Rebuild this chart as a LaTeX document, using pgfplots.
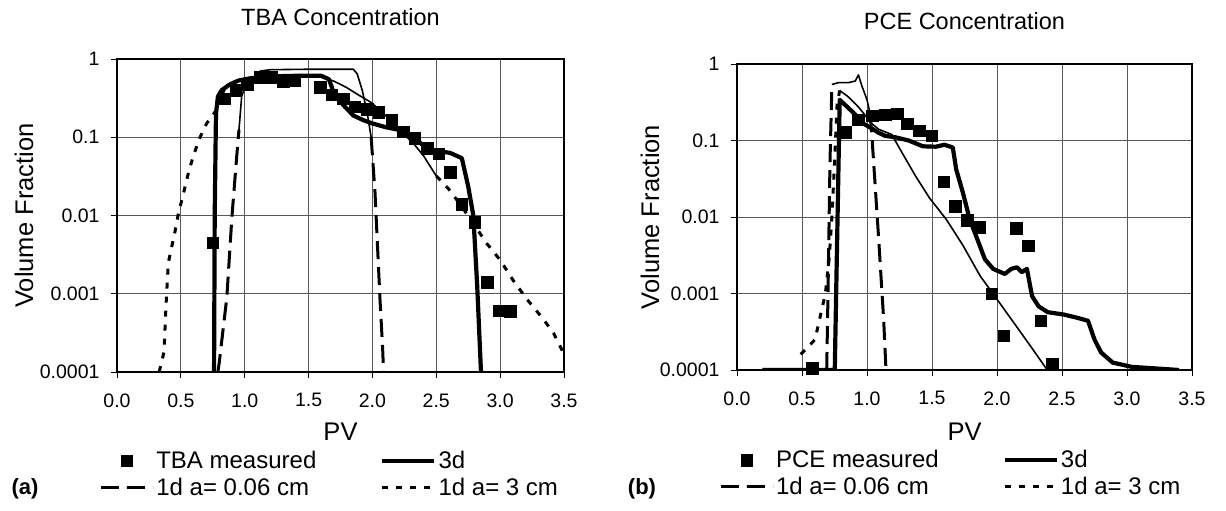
\documentclass[border=0pt]{standalone}
\usepackage{fontspec}
\setmainfont{Liberation Sans}
\usepackage{pgfplots}
\pgfplotsset{compat=1.18}

\pgfplotsset{
  legend image code/.code={\draw[mark repeat=2,mark phase=2,#1] plot coordinates {(0pt,0pt) (26pt,0pt) (52pt,0pt)};},
  meas/.style={only marks, mark=square*, mark size=5.8pt, black},
  three/.style={black, line width=4.2pt, no marks, line join=round},
  dsh/.style={black, line width=3pt, no marks, dash pattern=on 18pt off 8pt},
  dotln/.style={black, line width=3pt, no marks, dash pattern=on 6pt off 8pt},
  thinln/.style={black, line width=1.6pt, no marks, line join=round},
}

\begin{document}
\begin{tikzpicture}[x=1pt,y=1pt]
\useasboundingbox (0,0) rectangle (1226,511);

% ---------------- (a) TBA ----------------
\begin{semilogyaxis}[
  scale only axis, at={(117pt,139pt)}, anchor=south west,
  width=447pt, height=313pt,
  xmin=0, xmax=3.5, ymin=1e-4, ymax=1,
  xtick={0,0.5,...,3.5},
  ytick={1e-4,1e-3,1e-2,1e-1,1},
  yticklabels={0.0001,0.001,0.01,0.1,1},
  yminorticks=false,
  xticklabel style={yshift=-12pt, /pgf/number format/fixed, /pgf/number format/fixed zerofill, /pgf/number format/precision=1, /pgf/number format/assume math mode=true},
  yticklabel style={xshift=-8pt},
  tick label style={font=\fontsize{19.5}{22}\selectfont},
  grid=major,
  major grid style={black!65, line width=0.8pt},
  axis line style={line width=1.6pt},
  tick align=outside, major tick length=6pt,
  tick style={black, line width=1pt},
  tick pos=left,
  title={TBA Concentration},
  title style={at={(axis description cs:0.50,1.115)}, anchor=center, font=\fontsize{23.5}{26}\selectfont},
  xlabel={PV}, ylabel={Volume Fraction},
  xlabel style={at={(axis description cs:0.5,-0.192)}, anchor=center, font=\fontsize{25.5}{28}\selectfont},
  ylabel style={at={(axis description cs:-0.208,0.5)}, anchor=center, font=\fontsize{25.5}{28}\selectfont},
  legend columns=2,
  legend cell align=left,
  legend style={at={(axis description cs:-0.040,-0.246)}, draw=none, fill=none, anchor=north west, inner sep=0pt,
    nodes={inner sep=2pt, font=\fontsize{24}{26}\selectfont},
    /tikz/every even column/.append style={column sep=62pt}, row sep=4pt},
]
\addplot[meas] coordinates {
 (0.75,0.0045) (0.84,0.31) (0.93,0.40) (1.02,0.47) (1.12,0.59) (1.21,0.59)
 (1.30,0.51) (1.39,0.54) (1.59,0.44) (1.68,0.35) (1.77,0.31) (1.86,0.245)
 (1.96,0.23) (2.05,0.21) (2.15,0.166) (2.24,0.118) (2.33,0.097) (2.43,0.072)
 (2.52,0.062) (2.61,0.036) (2.70,0.014) (2.80,0.0082) (2.90,0.0014)
 (2.99,0.00061) (3.08,0.0006)
};
\addlegendentry{TBA measured}

\addplot[three] coordinates {
 (0.76,1e-4) (0.765,0.01) (0.775,0.2) (0.79,0.33) (0.82,0.40) (0.88,0.47)
 (0.95,0.53) (1.05,0.57) (1.2,0.60) (1.4,0.61) (1.6,0.61) (1.66,0.55)
 (1.70,0.36) (1.77,0.26) (1.85,0.19) (1.93,0.165) (2.0,0.15) (2.1,0.135)
 (2.2,0.125) (2.28,0.11) (2.35,0.093) (2.42,0.072) (2.53,0.066) (2.61,0.063)
 (2.70,0.054) (2.75,0.0235) (2.79,0.01) (2.82,0.0013) (2.85,1e-4)
};
\addlegendentry{3d}

% 1d a = 0.06 cm
\addplot[dsh] coordinates {
 (0.79,1e-4) (0.80,1.3e-4) (0.86,9e-4) (0.90,0.0097) (0.937,0.056) (0.955,0.124)
};
\addlegendentry{1d a= 0.06 cm}
\addplot[thinln, forget plot] coordinates {
 (0.955,0.124) (0.976,0.33) (1.0,0.43) (1.07,0.58) (1.12,0.70) (1.2,0.73)
 (1.5,0.74) (1.85,0.74) (1.88,0.65) (1.92,0.4) (1.96,0.2) (1.99,0.1)
};
\addplot[dsh, forget plot] coordinates {
 (1.99,0.1) (2.02,0.02) (2.04,0.004) (2.06,0.0008) (2.08,0.0002) (2.087,1e-4)
};

% 1d a = 3 cm
\addplot[dotln] coordinates {
 (0.33,1e-4) (0.368,1.8e-4) (0.384,7.2e-4) (0.402,0.0025) (0.454,0.0062)
 (0.48,0.0105) (0.52,0.019) (0.559,0.035) (0.598,0.058) (0.65,0.10)
 (0.702,0.15) (0.767,0.21)
};
\addlegendentry{1d a= 3 cm}
\addplot[thinln, forget plot] coordinates {
 (0.767,0.21) (0.80,0.28) (0.85,0.42) (0.90,0.50) (1.0,0.56) (1.2,0.59)
 (1.4,0.60) (1.6,0.59) (1.7,0.52) (1.80,0.43) (1.9,0.34) (1.98,0.285)
 (2.05,0.23) (2.14,0.166) (2.23,0.115) (2.32,0.084) (2.40,0.058) (2.50,0.032)
};
\addplot[dotln, forget plot] coordinates {
 (2.50,0.032) (2.595,0.022) (2.70,0.013) (2.80,0.0075) (2.895,0.0044)
 (3.0,0.0027) (3.10,0.0015) (3.21,0.00085) (3.34,0.00047) (3.42,0.00031)
 (3.5,0.00017)
};
\end{semilogyaxis}

% ---------------- (b) PCE ----------------
\begin{semilogyaxis}[
  scale only axis, at={(737pt,141pt)}, anchor=south west,
  width=455pt, height=306pt,
  xmin=0, xmax=3.5, ymin=1e-4, ymax=1,
  xtick={0,0.5,...,3.5},
  ytick={1e-4,1e-3,1e-2,1e-1,1},
  yticklabels={0.0001,0.001,0.01,0.1,1},
  yminorticks=false,
  xticklabel style={yshift=-12pt, /pgf/number format/fixed, /pgf/number format/fixed zerofill, /pgf/number format/precision=1, /pgf/number format/assume math mode=true},
  yticklabel style={xshift=-8pt},
  tick label style={font=\fontsize{19.5}{22}\selectfont},
  grid=major,
  major grid style={black!65, line width=0.8pt},
  axis line style={line width=1.6pt},
  tick align=outside, major tick length=6pt,
  tick style={black, line width=1pt},
  tick pos=left,
  title={PCE Concentration},
  title style={at={(axis description cs:0.50,1.122)}, anchor=center, font=\fontsize{23.5}{26}\selectfont},
  xlabel={PV}, ylabel={Volume Fraction},
  xlabel style={at={(axis description cs:0.5,-0.203)}, anchor=center, font=\fontsize{25.5}{28}\selectfont},
  ylabel style={at={(axis description cs:-0.191,0.5)}, anchor=center, font=\fontsize{25.5}{28}\selectfont},
  legend columns=2,
  legend cell align=left,
  legend style={at={(axis description cs:-0.040,-0.256)}, draw=none, fill=none, anchor=north west, inner sep=0pt,
    nodes={inner sep=2pt, font=\fontsize{24}{26}\selectfont},
    /tikz/every even column/.append style={column sep=62pt}, row sep=4pt},
]
\addplot[meas] coordinates {
 (0.578,1.05e-4) (0.83,0.128) (0.934,0.187) (1.04,0.21) (1.14,0.218)
 (1.232,0.224) (1.31,0.166) (1.40,0.135) (1.497,0.116) (1.59,0.0288)
 (1.68,0.0138) (1.77,0.0091) (1.868,0.0074) (1.958,0.0010) (2.05,0.00028)
 (2.148,0.0071) (2.239,0.0042) (2.335,0.00044) (2.425,0.00012)
};
\addlegendentry{PCE measured}

\addplot[three] coordinates {
 (0.195,1e-4) (0.5,1e-4) (0.752,1e-4) (0.79,0.34) (0.843,0.28) (0.908,0.22)
 (0.96,0.17) (1.01,0.153) (1.09,0.126) (1.14,0.115) (1.22,0.11) (1.32,0.10)
 (1.43,0.084) (1.53,0.083) (1.595,0.088) (1.66,0.081) (1.686,0.042)
 (1.738,0.0207) (1.79,0.0093) (1.84,0.0056) (1.907,0.0028) (1.97,0.0021)
 (2.06,0.0018) (2.11,0.0021) (2.153,0.0022) (2.19,0.0019) (2.23,0.0021)
 (2.27,0.00092) (2.32,0.00068) (2.39,0.00057) (2.516,0.00053) (2.62,0.00048)
 (2.70,0.00044) (2.75,0.00025) (2.80,0.00017) (2.89,0.000125) (3.035,0.00011)
 (3.40,0.0001)
};
\addlegendentry{3d}

% 1d a = 0.06 cm
\addplot[dsh] coordinates {
 (0.69,1e-4) (0.70,0.001) (0.715,0.05) (0.73,0.54)
};
\addlegendentry{1d a= 0.06 cm}
\addplot[thinln, forget plot] coordinates {
 (0.73,0.54) (0.78,0.57) (0.856,0.57) (0.91,0.60) (0.934,0.72) (0.96,0.52)
 (1.0,0.34) (1.025,0.22)
};
\addplot[dsh, forget plot] coordinates {
 (1.025,0.22) (1.04,0.1) (1.09,0.0051) (1.128,4.6e-4) (1.146,1e-4)
};

% 1d a = 3 cm
\addplot[dotln] coordinates {
 (0.49,1.6e-4) (0.60,2.5e-4) (0.64,5e-4) (0.68,0.001) (0.71,0.003)
 (0.73,0.01) (0.75,0.05) (0.77,0.3) (0.79,0.45)
};
\addlegendentry{1d a= 3 cm}
\addplot[thinln, forget plot] coordinates {
 (0.79,0.45) (0.85,0.38) (0.93,0.28) (0.98,0.22) (1.03,0.17) (1.09,0.14)
 (1.19,0.12) (1.27,0.069) (1.375,0.034) (1.48,0.0178) (1.61,0.0093)
 (1.74,0.0042) (1.87,0.0017) (2.0,8.4e-4) (2.127,4.2e-4) (2.257,2.06e-4)
 (2.387,1e-4)
};
\end{semilogyaxis}

\node[font=\bfseries\fontsize{22}{24}\selectfont] at (25,22) {(a)};
\node[font=\bfseries\fontsize{22}{24}\selectfont] at (642,22) {(b)};
\end{tikzpicture}
\end{document}
